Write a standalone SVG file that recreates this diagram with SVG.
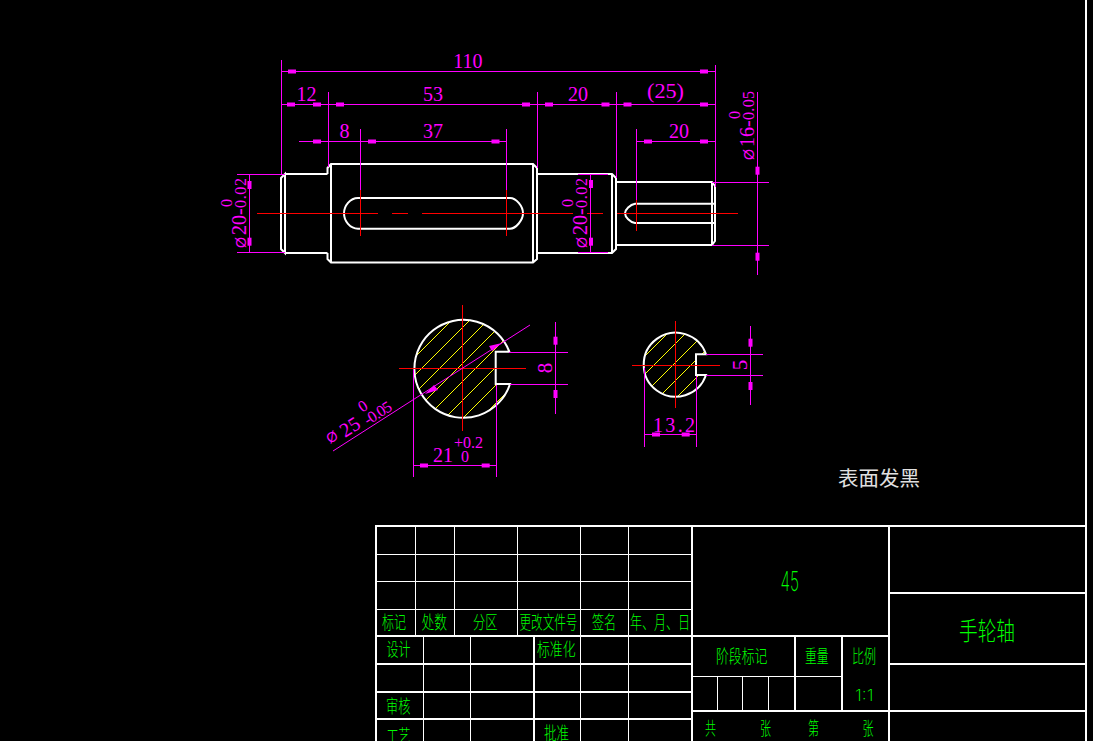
<svg xmlns="http://www.w3.org/2000/svg" width="1093" height="741" viewBox="0 0 1093 741">
<style>
.w{stroke:#fff;stroke-width:2;fill:none}
.t{stroke:#fff;stroke-width:1;fill:none;shape-rendering:crispEdges}
.k{stroke:#fff;stroke-width:2;fill:none;shape-rendering:crispEdges}
.m{stroke:#f0f;stroke-width:1;fill:none;shape-rendering:crispEdges}
.ma{stroke:#f0f;stroke-width:1;fill:none}
.r{stroke:#f00;stroke-width:1;fill:none;shape-rendering:crispEdges}
.y{stroke:#ff0;stroke-width:1;fill:none;shape-rendering:crispEdges}
.d{fill:#f0f;font-family:"Liberation Serif",serif;font-size:20px;text-anchor:middle}
.l{fill:#f0f;font-family:"Liberation Serif",serif;font-size:20px}
.o{fill:#f0f;font-family:"Liberation Sans",sans-serif;font-size:14px}
.s{fill:#f0f;font-family:"Liberation Serif",serif;font-size:16px}
.g{fill:#0f0;font-family:"Noto Sans CJK SC","Liberation Sans",sans-serif;font-size:18px;font-weight:300}
.n{fill:#0f0;font-family:"Inter","Liberation Sans",sans-serif;font-weight:200}
.c{fill:#e0e0e0;font-family:"Noto Sans CJK SC",sans-serif;font-size:20.5px}
</style>
<defs>
<rect id="ah" x="-4" y="-2" width="8" height="4" fill="#f0f"/>
<rect id="av" x="-2" y="-4" width="4" height="8" fill="#f0f"/>
<clipPath id="c1"><path d="M509.3 351.7A49 49 0 1 0 510 384H495.7V351.7Z"/></clipPath>
<clipPath id="c2"><path d="M706 354.3A32 32 0 1 0 706 375H696V354.3Z"/></clipPath>
</defs>
<rect width="1093" height="741" fill="#000"/>
<line id="frame" x1="1086" y1="0" x2="1086" y2="741" class="k"/>

<g id="shaft">
<path class="w" d="M285 174H327.5M285 253H327.5M285 174L281 178V249L285 253ZM327.5 174V168L331 164H533L537 168V259L533 262.500H331L327.5 259V253M331 164V262.500M533 164V262.500M537 174H612L616 178V249L612 253H537M612 174V253M616 182H712L715 186V241L712 245H616M712 182V245"/>
<path class="w" d="M510 198H358C350 198 344 206 344 213.300C344 221 350 228.700 358 228.700H510C516 228.700 523 220 523 213.300C523 206 516 198 510 198Z"/>
<path class="w" d="M715 203.700H635C630 204.500 625 210 625 213.300C625 217 630 222 635 223H715"/>
<path class="r" d="M257 213.500H378M392 213.500H408M422 213.500H573M587 213.500H603M617 213.500H738M360.500 190V236M506.500 190V236M636.500 200V231"/>
</g>

<g id="section-large">
<g clip-path="url(#c1)" class="y">
<path d="M393 379L495 277M393 397L513 277M393 415L531 277M393 433L549 277M393 451L567 277M393 470L586 277M393 488L604 277M393 506L622 277"/>
</g>
<path class="w" d="M509.3 351.700A49 49 0 1 0 510 384H495.700V351.700Z"/>
<path class="r" d="M462.500 305V431M399 368.500H526"/>
</g>

<g id="section-small">
<g clip-path="url(#c2)" class="y">
<path d="M641 360L690 311M641 378L710 309M641 397L730 308M641 415L730 326M641 433L730 344"/>
</g>
<path class="w" d="M706 354.300A32 32 0 1 0 706 375H696V354.300Z"/>
<path class="r" d="M675.500 321V408M632 365.500H720"/>
</g>

<g id="connectors">
<path class="m" d="M281.500 60V175M281.500 71.500H715.500M715.500 65V187M281.500 104.500H715.500M328.500 92V167M537.500 92V168M616.500 92V178M299 141.500H506.500M360.500 129V190M506.500 129V190M636.500 129V200M636.500 141.500H715.500"/>
<path class="m" d="M237 174.500H285M237 252.500H285M249.500 174V253M578 174.500H608M578 252.500H608M590.500 174V253M712 182.500H769M712 245.500H769M757.500 92V275"/>
<path class="ma" d="M333 451L530 325"/>
<path class="m" d="M509 352.500H568M510 384.500H568M555.500 322V414M413.500 370V477M496.500 385V477M413.500 465.500H496.500"/>
<path class="m" d="M706 354.500H763M706 375.500H763M750.500 326V405M644.500 368V447M696.500 376V447M644.500 434.500H696.500"/>
<use href="#ah" x="292" y="71.500"/><use href="#ah" x="704" y="71.500"/>
<use href="#ah" x="291" y="104.500"/><use href="#ah" x="317" y="104.500"/><use href="#ah" x="340" y="104.500"/><use href="#ah" x="526" y="104.500"/><use href="#ah" x="549" y="104.500"/><use href="#ah" x="605.500" y="104.500"/><use href="#ah" x="627.500" y="104.500"/><use href="#ah" x="704" y="104.500"/>
<use href="#ah" x="317" y="141.500"/><use href="#ah" x="372" y="141.500"/><use href="#ah" x="495.500" y="141.500"/><use href="#ah" x="648" y="141.500"/><use href="#ah" x="704" y="141.500"/>
<use href="#av" x="249.500" y="185"/><use href="#av" x="249.500" y="241.700"/><use href="#av" x="591" y="184"/><use href="#av" x="591" y="241.700"/><use href="#av" x="757.500" y="170.700"/><use href="#av" x="757.500" y="256.700"/>
<use href="#av" x="555.500" y="340.700"/><use href="#av" x="555.500" y="394"/><use href="#av" x="750.500" y="342.700"/><use href="#av" x="750.500" y="386"/>
<use href="#ah" x="424" y="465.500"/><use href="#ah" x="485.700" y="465.500"/><use href="#ah" x="656" y="434.500"/><use href="#ah" x="685.700" y="434.500"/>
<path fill="#f0f" d="M502 343L489 346L492 351ZM425 394L438 390L434 385Z"/>
</g>

<g id="dimension-text">
<text class="d" x="468" y="68">110</text>
<text class="d" x="306.500" y="101">12</text>
<text class="d" x="433" y="101">53</text>
<text class="d" x="578" y="101">20</text>
<text class="l" x="647" y="98" textLength="37" lengthAdjust="spacingAndGlyphs">(25)</text>
<text class="d" x="344.500" y="138">8</text>
<text class="d" x="433" y="138">37</text>
<text class="d" x="679" y="138">20</text>
<g transform="translate(246 248) rotate(-90)"><text class="o" x="0" y="0">Ø</text><text class="l" x="13" y="0">20-</text><text class="s" x="40" y="0" textLength="30">0.02</text><text class="s" x="41" y="-14">0</text></g>
<g transform="translate(587 248) rotate(-90)"><text class="o" x="0" y="0">Ø</text><text class="l" x="13" y="0">20-</text><text class="s" x="40" y="0" textLength="30">0.02</text><text class="s" x="41" y="-14">0</text></g>
<g transform="translate(754 160) rotate(-90)"><text class="o" x="0" y="0">Ø</text><text class="l" x="13" y="0">16-</text><text class="s" x="40" y="0" textLength="29">0.05</text><text class="s" x="41" y="-14">0</text></g>
<g transform="translate(330 444) rotate(-32.600)"><text class="o" x="0" y="0">Ø</text><text class="l" x="16" y="3">25</text><text class="s" x="42" y="5" textLength="30">-0.05</text><text class="s" x="44" y="-9">0</text></g>
<text class="d" style="font-size:21px" transform="translate(552 368) rotate(-90)">8</text>
<text class="d" style="font-size:21px" transform="translate(747 365) rotate(-90)">5</text>
<text class="d" x="443" y="462">21</text>
<text class="s" x="454" y="448" textLength="29">+0.2</text>
<text class="s" x="461" y="462">0</text>
<text class="l" x="653" y="432" textLength="42">13.2</text>
</g>

<text id="note" class="c" x="838" y="486">表面发黑</text>

<g id="title-block">
<path class="k" d="M375 526H1086M376 526V741M692 526V741M888.500 526V741M376 636H691M376 664H691M376 692H691M376 719H691M533.500 636V741M692 636H888M692 711H888M794.500 636V711M841.500 636V711M888 593H1086M888 664H1086M888 711H1086"/>
<path class="t" d="M376 554.500H691M376 581.500H691M376 609.500H691M415.500 526V636M454.500 526V636M517.500 526V636M580.500 526V741M628.500 526V741M423.500 636V741M470.500 636V741M692 676.500H841M717.500 676V711M742.500 676V711M768.500 676V711"/>
<text class="g" x="382" y="629" textLength="24" lengthAdjust="spacingAndGlyphs">标记</text>
<text class="g" x="421.500" y="629" textLength="25.500" lengthAdjust="spacingAndGlyphs">处数</text>
<text class="g" x="473" y="629" textLength="24.500" lengthAdjust="spacingAndGlyphs">分区</text>
<text class="g" transform="translate(519.500 629) scale(.644 1)">更改文件号</text>
<text class="g" x="592" y="629" textLength="24" lengthAdjust="spacingAndGlyphs">签名</text>
<text class="g" x="630" y="629" textLength="60" lengthAdjust="spacingAndGlyphs">年、月、日</text>
<text class="g" x="386.500" y="656" textLength="24" lengthAdjust="spacingAndGlyphs">设计</text>
<text class="g" x="537" y="656" textLength="38.500" lengthAdjust="spacingAndGlyphs">标准化</text>
<text class="g" x="386" y="713" textLength="24.500" lengthAdjust="spacingAndGlyphs">审核</text>
<text class="g" x="386.500" y="743" textLength="24" lengthAdjust="spacingAndGlyphs">工艺</text>
<text class="g" x="544" y="740" textLength="25" lengthAdjust="spacingAndGlyphs">批准</text>
<text class="n" x="780.500" y="591" font-size="27" textLength="18.500" lengthAdjust="spacingAndGlyphs">45</text>
<text class="g" x="959" y="640" style="font-size:25px" textLength="56" lengthAdjust="spacingAndGlyphs">手轮轴</text>
<text class="g" x="716" y="663" textLength="51.500" lengthAdjust="spacingAndGlyphs">阶段标记</text>
<text class="g" x="805" y="663" textLength="23.500" lengthAdjust="spacingAndGlyphs">重量</text>
<text class="g" x="852" y="663" textLength="24" lengthAdjust="spacingAndGlyphs">比例</text>
<text class="n" x="855" y="701" font-size="16" textLength="18.500" lengthAdjust="spacingAndGlyphs">1:1</text>
<text class="g" x="705" y="735" textLength="11" lengthAdjust="spacingAndGlyphs">共</text>
<text class="g" x="760" y="735" textLength="11" lengthAdjust="spacingAndGlyphs">张</text>
<text class="g" x="808" y="735" textLength="11" lengthAdjust="spacingAndGlyphs">第</text>
<text class="g" x="862.500" y="735" textLength="11" lengthAdjust="spacingAndGlyphs">张</text>
</g>
</svg>
